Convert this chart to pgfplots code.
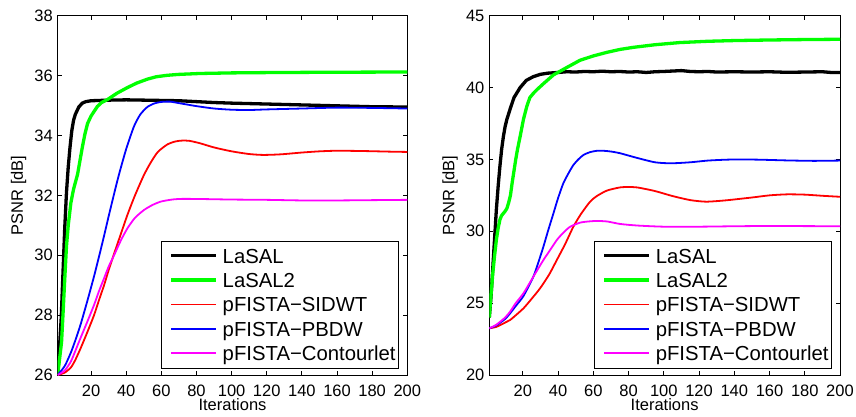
\documentclass[border=0pt]{standalone}
\usepackage{fontspec}
\setmainfont{Liberation Sans}
\usepackage{pgfplots}
\pgfplotsset{compat=1.18}
\definecolor{mgreen}{rgb}{0,1,0}
\definecolor{mmag}{rgb}{1,0,1}
\newcommand{\lgf}{\fontsize{20.3}{24}\selectfont}
\pgfplotsset{
  mystyle/.style={
    scale only axis,
    width=350pt, height=359.3pt,
    xmin=1, xmax=200,
    xtick={20,40,...,200},
    tick align=inside,
    major tick length=4pt,
    axis line style={line width=0.8pt, black},
    every tick/.style={line width=0.8pt, black},
    /pgf/number format/assume math mode=true,
    tick label style={font=\fontsize{16.5}{19}\selectfont},
    xticklabel style={anchor=base, inner sep=0pt, yshift=-21pt},
    yticklabel style={anchor=east, inner sep=0pt, xshift=-4.7pt},
    label style={font=\fontsize{16.5}{19}\selectfont},
    xlabel={Iterations},
    xlabel style={at={(axis description cs:0.5,-0.0996)}, anchor=base, inner sep=0pt},
    ylabel={PSNR [dB]},
    ylabel style={at={(axis description cs:-0.1121,0.5)}, anchor=center, rotate=0, inner sep=0pt},
    legend cell align=left,
    legend image code/.code={\path (-6.7pt,0pt); \draw[##1] (0pt,0pt) -- (45pt,0pt);},
    legend style={anchor=south east, draw=black, line width=0.8pt, fill=white,
      font=\lgf,
      inner xsep=2pt, inner ysep=7.35pt,
      nodes={font=\lgf, inner xsep=1.3pt, inner ysep=0pt, text height=14.6pt, text depth=0pt},
      /tikz/row sep=9.8pt,
      /tikz/column sep=0pt,
      /tikz/every odd column/.append style={column sep=3.4pt}},
  },
  thickl/.style={line width=3.3pt},
  thinl/.style={line width=1.8pt},
}
\begin{document}
\begin{tikzpicture}
\useasboundingbox (0,0) rectangle (856pt,416pt);
% ---------------- left panel
\begin{axis}[mystyle, at={(57.7pt,41pt)}, anchor=south west, width=349.6pt,
  ymin=26, ymax=38, ytick={26,28,...,38},
  legend style={at={(axis description cs:0.977,0.0185)}}]
\addplot[black, thickl] coordinates {
(1,26)(2,26.9)(3,27.9)(4,29.4)(5,30.9)(6,32.1)(7,32.95)(8,33.6)(9,34.15)(10,34.5)(11,34.7)(13,34.95)(15,35.08)(17,35.13)(20,35.16)
(30,35.18)(40,35.19)(50,35.18)(60,35.17)(70,35.16)(80,35.13)(90,35.1)(100,35.08)(120,35.05)(140,35.02)(160,34.99)(180,34.96)(200,34.95)};
\addlegendentry{LaSAL}
\addplot[mgreen, thickl] coordinates {
(1,26)(2,26.5)(3.2,27.1)(4,28.0)(5.1,29.3)(6,30.3)(7,31.0)(8.5,31.75)(10,32.2)(12.3,32.7)(13.5,33.1)(15,33.6)(16.5,34.05)(18,34.4)(20,34.65)(23.6,34.97)(26,35.1)(29.3,35.2)
(35,35.42)(40.7,35.6)(46,35.75)(52,35.88)(57,35.96)(63.4,36.01)(70,36.04)(82,36.07)(100,36.09)(120,36.1)(150,36.11)(200,36.12)};
\addlegendentry{LaSAL2}
\addplot[red, thinl, smooth, tension=0.4] coordinates {
(1,26)(5,26.08)(8.5,26.25)(11,26.5)(14.1,26.9)(18,27.45)(21.7,28.0)(24.5,28.5)(27.4,29.0)(30,29.5)(33.1,30.05)(37,30.72)(40.7,31.35)(45,32.0)(50.1,32.68)(54,33.1)(58,33.45)(63.4,33.7)(68,33.8)(72,33.83)(76,33.82)(82,33.74)(90,33.6)(100,33.47)(110,33.38)(118,33.35)(128,33.37)(140,33.43)(150,33.47)(160,33.49)(175,33.48)(190,33.46)(200,33.45)};
\addlegendentry{pFISTA−SIDWT}
\addplot[blue, thinl, smooth, tension=0.4] coordinates {
(1,26)(5,26.3)(8.5,26.75)(11,27.15)(14.1,27.7)(18,28.5)(21.7,29.3)(24.5,29.95)(27.4,30.65)(30,31.3)(33.1,32.05)(35.9,32.7)(40,33.55)(44.4,34.3)(48,34.7)(52,34.95)(56,35.07)(60,35.12)(65,35.13)(70,35.08)(80,34.98)(90,34.9)(100,34.86)(110,34.85)(120,34.87)(140,34.9)(160,34.93)(180,34.92)(200,34.9)};
\addlegendentry{pFISTA−PBDW}
\addplot[mmag, thinl, smooth, tension=0.4] coordinates {
(1,26)(5,26.15)(8.5,26.45)(11,26.8)(14.1,27.25)(18,27.8)(21.7,28.34)(24.5,28.8)(27.4,29.23)(30,29.62)(33.1,30.0)(37,30.5)(40.7,30.9)(45,31.25)(50.1,31.51)(55,31.68)(59.6,31.79)(65,31.85)(70,31.88)(80,31.88)(100,31.86)(120,31.85)(140,31.83)(160,31.83)(180,31.84)(200,31.85)};
\addlegendentry{pFISTA−Contourlet}
\end{axis}
% ---------------- right panel
\begin{axis}[mystyle, at={(489.3pt,41pt)}, anchor=south west, width=350.7pt,
  ymin=20, ymax=45, ytick={20,25,...,45},
  legend style={at={(axis description cs:0.978,0.0185)}}]
\addplot[black, thickl] coordinates {
(1,24.0)(2,25.5)(3,27.5)(4,29.5)(5,31.5)(6,33.1)(7,34.5)(8,35.7)(9,36.6)(10,37.3)(11,37.8)(12.8,38.5)(15,39.3)(18.5,40.0)(22,40.5)(26,40.76)(30,40.92)(34,41.0)
(40,41.05)(45,41.1)(50,41.08)(55,41.12)(60,41.1)(65,41.14)(70,41.1)(75,41.12)(80,41.08)(85,41.1)(90,41.05)(95,41.1)(100,41.12)(105,41.15)(110,41.18)(115,41.12)(120,41.1)(125,41.12)(130,41.08)(140,41.1)(150,41.08)(160,41.1)(170,41.06)(180,41.08)(190,41.1)(195,41.05)(200,41.05)};
\addlegendentry{LaSAL}
\addplot[mgreen, thickl] coordinates {
(1,24.0)(2,25.6)(3,27.1)(4,28.3)(5,29.4)(6,30.2)(7,30.8)(8,31.1)(9,31.25)(10,31.4)(11,31.6)(12,32.0)(13,32.5)(14,33.4)(15,34.2)(16,35.0)(17,35.7)(18.5,36.6)(20.4,37.8)(22.3,38.7)(24,39.3)(26,39.6)(28,39.85)
(32,40.3)(37.4,40.88)(45,41.4)(52.5,41.9)(60,42.2)(67.7,42.45)(75,42.65)(82.8,42.8)(95,42.98)(109,43.13)(125,43.22)(140,43.27)(160,43.31)(180,43.34)(200,43.36)};
\addlegendentry{LaSAL2}
\addplot[red, thinl, smooth, tension=0.4] coordinates {
(1,23.25)(5,23.35)(10,23.65)(12.8,23.83)(15,24.05)(20.4,24.64)(25,25.3)(29.8,26.03)(35,27.0)(39.3,28.0)(44,29.1)(48.7,30.32)(53,31.2)(58.2,32.06)(62,32.45)(67.7,32.83)(75,33.05)(80,33.08)(85,33.05)(95,32.8)(105,32.45)(115,32.17)(124,32.06)(135,32.15)(150,32.35)(160,32.5)(170,32.57)(180,32.55)(190,32.47)(200,32.4)};
\addlegendentry{pFISTA−SIDWT}
\addplot[blue, thinl, smooth, tension=0.4] coordinates {
(1,23.25)(5,23.45)(10,23.9)(12.8,24.29)(16,24.8)(20.4,25.5)(26,26.84)(29,27.9)(31.7,28.93)(34.5,30.1)(37.4,31.25)(40,32.3)(43,33.34)(46,34.05)(48.7,34.61)(51.5,35.0)(54.4,35.31)(58,35.5)(62,35.6)(66,35.6)(70,35.55)(75.2,35.43)(85,35.1)(95,34.8)(104,34.73)(115,34.8)(125,34.92)(135,34.98)(143,35.0)(155,34.98)(170,34.93)(185,34.9)(200,34.92)};
\addlegendentry{pFISTA−PBDW}
\addplot[mmag, thinl, smooth, tension=0.4] coordinates {
(1,23.25)(5,23.5)(10,24.0)(12.8,24.41)(16,25.0)(20.4,25.69)(26,26.84)(31.7,28.0)(35,28.6)(39.3,29.39)(43,29.9)(46.9,30.32)(52.5,30.6)(57,30.68)(62,30.72)(68,30.68)(75.2,30.51)(85,30.4)(100,30.32)(120,30.32)(140,30.35)(160,30.37)(180,30.36)(200,30.35)};
\addlegendentry{pFISTA−Contourlet}
\end{axis}
\end{tikzpicture}
\end{document}
